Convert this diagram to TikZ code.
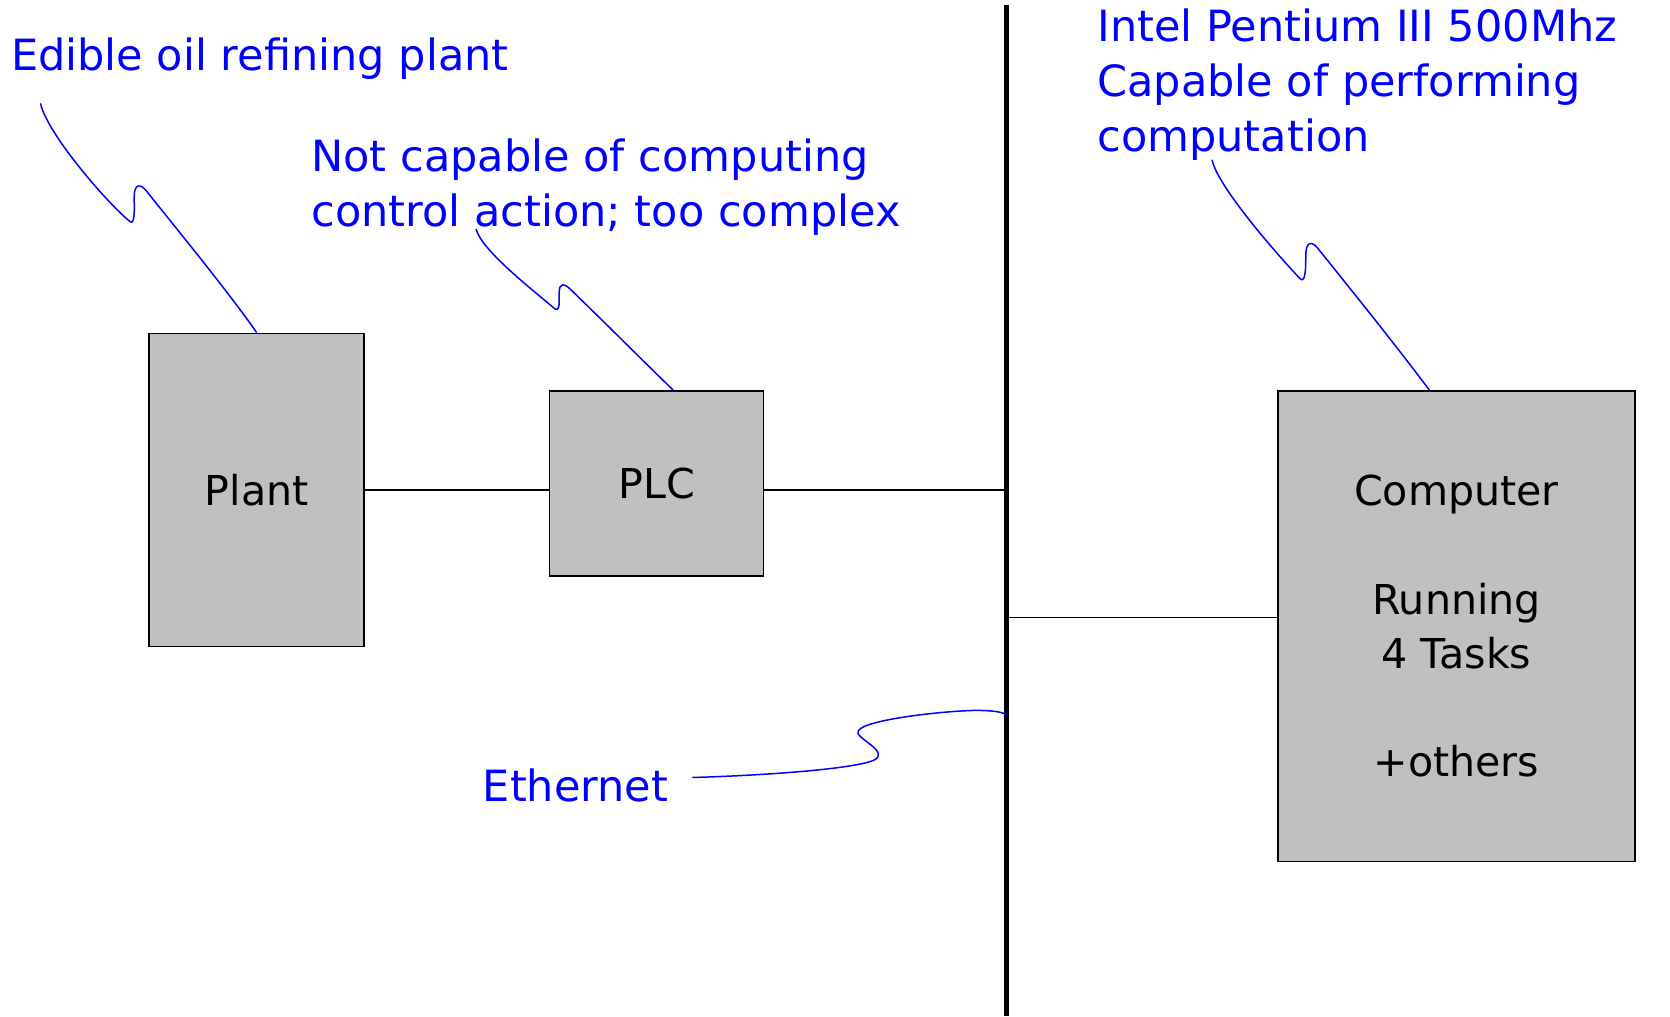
\documentclass[tikz,border=0pt]{standalone}
\usepackage{fontspec}
\setmainfont{DejaVu Sans}
\usetikzlibrary{calc}
\definecolor{noteblue}{HTML}{0000FF}
\definecolor{boxgray}{HTML}{C0C0C0}

\begin{document}
\begin{tikzpicture}[x=0.02cm,y=-0.02cm,
    box/.style={draw=black, fill=boxgray, line width=0.9pt, inner sep=0pt,
      align=center, font=\fontsize{22}{29}\selectfont},
    note/.style={text=noteblue, anchor=west, inner sep=0pt, align=left,
      font=\fontsize{23}{29.6}\selectfont},
    callout/.style={draw=noteblue, line width=0.8pt},
    wire/.style={draw=black, line width=0.7pt}]
    \useasboundingbox (0,0) rectangle (1568,954);

    % Ethernet bus
    \coordinate (bustop) at (945,5);
    \coordinate (busbot) at (945,954);
    \draw[line width=2.2pt] (bustop) -- (busbot);

    % Boxes
    \node[box, minimum width=4.04cm, minimum height=5.88cm] (plant) at (241,460) {Plant};
    \node[box, minimum width=4.02cm, minimum height=3.48cm] (plc) at (616.5,454) {PLC};
    \node[box, minimum width=6.7cm, minimum height=8.84cm] (comp) at (1367.5,588)
      {Computer\\[29pt]Running\\4 Tasks\\[29pt]+others};

    % Wires
    \coordinate (tapplc) at (945,460);
    \coordinate (tapcomp) at (945,580);
    \draw[wire] (plant.east) -- (plant.east -| plc.west);
    \draw[wire] (plc.east |- plant.east) -- (tapplc);
    \draw[wire] (tapcomp) -- (tapcomp -| comp.west);

    % Notes
    \node[note] (plantnote) at (10,55) {Edible oil refining plant};
    \node[note] (plcnote) at (292,175.5) {Not capable of computing\\control action; too complex};
    \node[note] (compnote) at (1030,79.5) {Intel Pentium III 500Mhz\\Capable of performing\\computation};
    \node[note] (ethnote) at (453,737) {Ethernet};

    % Callouts
    \coordinate (plantfoot) at (38,97);
    \coordinate (plcfoot) at (447,215);
    \coordinate (compfoot) at (1138,150);
    \coordinate (tapnote) at (945,671);

    \draw[callout] (plantfoot) .. controls (44,125) and (100,190) .. (122,208)
      .. controls (127,212) and (126,195) .. (126,185)
      .. controls (126,172) and (132,172) .. (138,180)
      .. controls (170,220) and (215,275) .. (plant.north);
    \draw[callout] (plcfoot) .. controls (452,235) and (500,272) .. (521,290)
      .. controls (526,293) and (525,282) .. (525,275)
      .. controls (525,265) and (530,266) .. (536,272)
      .. controls (570,305) and (610,345) .. ($(plc.north)+(15.5,0)$);
    \draw[callout] (compfoot) .. controls (1143,175) and (1200,240) .. (1221,262)
      .. controls (1226,266) and (1226,250) .. (1226,240)
      .. controls (1226,226) and (1232,226) .. (1238,234)
      .. controls (1275,280) and (1315,330) .. ($(comp.north)+(-25.5,0)$);
    \draw[callout] (650,730) .. controls (720,728) and (800,722) .. (820,714)
      .. controls (838,706) and (800,692) .. (806,686)
      .. controls (812,676) and (880,668) .. (915,667)
      .. controls (930,667) and (940,668) .. (tapnote);
\end{tikzpicture}
\end{document}
